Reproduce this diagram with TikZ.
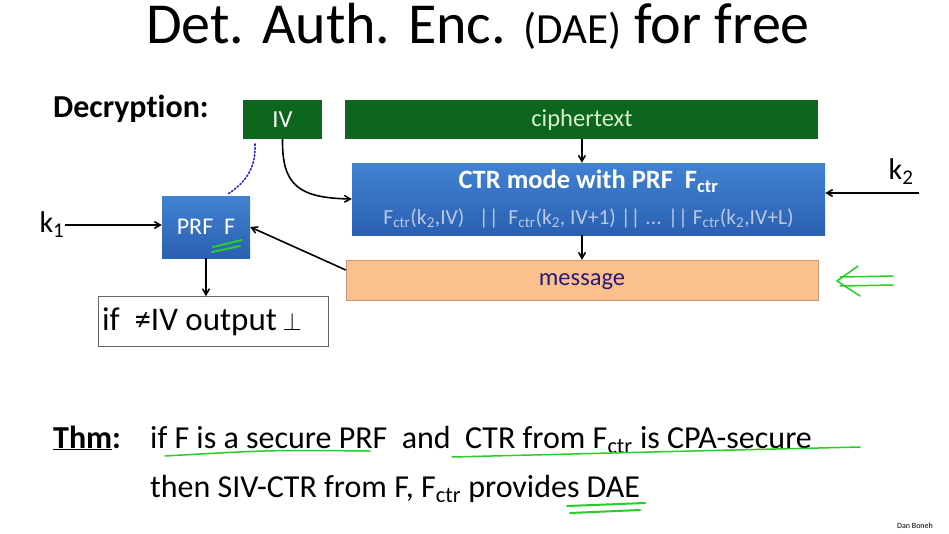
\documentclass[tikz,border=0pt]{standalone}
\usepackage{fontspec}
\setmainfont[Ligatures = NoCommon]{Carlito}
\usetikzlibrary{arrows,%
                shapes,positioning}
\definecolor{dkgreen}{RGB}{14,102,30}
\definecolor{ciphergreen}{RGB}{215,240,205}
\definecolor{bluetop}{RGB}{66,130,210}
\definecolor{bluebot}{RGB}{42,96,178}
\definecolor{peach}{RGB}{251,192,142}
\definecolor{navy}{RGB}{35,30,120}
\definecolor{ctrgrey}{RGB}{185,200,228}
\definecolor{pengreen}{RGB}{40,205,40}
\definecolor{penblue}{RGB}{40,40,220}
\newcommand{\Fctr}{F\textsubscript{ctr}}

\begin{document}
\begin{tikzpicture}[x = 1pt, y = -1pt, >= angle 60]
  \useasboundingbox (0,0) rectangle (949,533);
  \tikzset{GreenBox/.style  = {rectangle,
                               fill           = dkgreen,
                               text           = white,
                               font           = \fontsize{24.5}{28}\selectfont,
                               minimum height = 39pt}}
  \tikzset{BlueBox/.style   = {rectangle,
                               top color      = bluetop,
                               bottom color   = bluebot,
                               text           = white}}
  \tikzset{PeachBox/.style  = {rectangle,
                               fill           = peach,
                               draw           = peach!80!black,
                               text           = navy,
                               text depth     = 0pt,
                               font           = \fontsize{24.5}{28}\selectfont,
                               minimum height = 40pt}}
  \tikzset{OutBox/.style    = {rectangle,
                               draw           = black!60,
                               thick,
                               font           = \fontsize{33}{38}\selectfont,
                               inner xsep     = 4pt,
                               minimum height = 50pt}}
  \tikzset{Arrow/.style     = {->,
                               line width     = 1.6pt}}
  \tikzset{ThmText/.style   = {anchor         = base west,
                               inner sep      = 0pt,
                               font           = \fontsize{32}{38}\selectfont}}
  \tikzset{Pen/.style       = {pengreen,
                               line width     = 1.5pt,
                               line cap       = round}}

     % title and heading
     \node[anchor = base, font = \fontsize{58}{66}\selectfont] (title) at (478,43)
          {Det. Auth. Enc. {\fontsize{43}{48}\selectfont (DAE)} for free};
     \node[anchor = base west, inner sep = 0pt,
           font = \bfseries\fontsize{32}{36}\selectfont] (dec) at (53,117) {Decryption:};

     % boxes
     \node[GreenBox, minimum width = 79pt](iv) at (282.5,119.5) {IV};
     \node[GreenBox, minimum width = 473pt, text = ciphergreen,
           right = 23pt of iv](cipher) {ciphertext};
     \node[BlueBox, minimum width = 473pt, minimum height = 72pt,
           align = center](ctr) at (588.5,199)
          {{\bfseries\fontsize{26.5}{30}\selectfont CTR mode with PRF\ \ \Fctr}\\[15pt]
           {\color{ctrgrey}\fontsize{21.5}{24}\selectfont
            \Fctr(k\textsubscript{2},IV)\ \ \ ||\ \ \Fctr(k\textsubscript{2}, IV+1) || ... || \Fctr(k\textsubscript{2},IV+L)}};
     \node[PeachBox, minimum width = 472pt](msg) at (582,280) {message};
     \node[BlueBox, minimum width = 88pt, minimum height = 62pt,
           font = \fontsize{24}{28}\selectfont](prf) at (206,227) {PRF\ \ F};
     \node[OutBox, below = 38pt of prf, xshift = 7pt](out)
          {\makebox[222pt][l]{if\ \ ≠IV output\,$\perp$}};

     % keys
     \node[inner sep = 0pt, font = \fontsize{30}{34}\selectfont](k1) at (52,225) {k\textsubscript{1}};
     \node[inner sep = 0pt, font = \fontsize{30}{34}\selectfont](k2) at (901,172) {k\textsubscript{2}};
     \coordinate (k2in) at (919,193);

     % connectors
     \draw[Arrow](k1.east) -- (prf.west |- k1.east);
     \draw[Arrow](k2in) -- (k2in -| ctr.east);
     \draw[Arrow](cipher.south) -- (cipher.south |- ctr.north);
     \draw[Arrow](msg.north |- ctr.south) -- (msg.north);
     \draw[Arrow]([yshift = 10pt]msg.west) -- (prf.east);
     \draw[Arrow](iv.south) .. controls (282,185) and (298,198) .. (ctr.west);
     \draw[Arrow](prf.south) -- (prf.south |- out.north);

     % theorem
     \node[ThmText](thm) at (53,448) {\textbf{\underline{Thm}:}};
     \node[ThmText](line1) at (150,448)
          {if F is a secure PRF\ \ and\ \ CTR from \Fctr\ is CPA-secure};
     \node[ThmText](line2) at (150,497)
          {then SIV-CTR from F, \Fctr\ provides DAE};
     \node[font = \fontsize{8}{10}\selectfont](author) at (915,526) {Dan Boneh};

     % pen marks
     \draw[penblue, dotted, line width = 1.6pt, line cap = round]
          (255,144) .. controls (256,168) and (246,182) .. (228,194);
     \draw[Pen, line width = 2pt](213,247) -- (242,240);
     \draw[Pen, line width = 2pt](212,252) -- (240,246);
     \draw[Pen](165,456) .. controls (270,450) .. (370,451);
     \draw[Pen](452,457) .. controls (650,452) .. (860,447);
     \draw[Pen, line width = 2pt](567,506) -- (645,503);
     \draw[Pen, line width = 2pt](570,513) -- (640,510);
     \draw[Pen](893,276) -- (840,277);
     \draw[Pen](893,285) -- (840,286);
     \draw[Pen](858,266) -- (837,281) -- (860,296);
  \end{tikzpicture}
\end{document}
